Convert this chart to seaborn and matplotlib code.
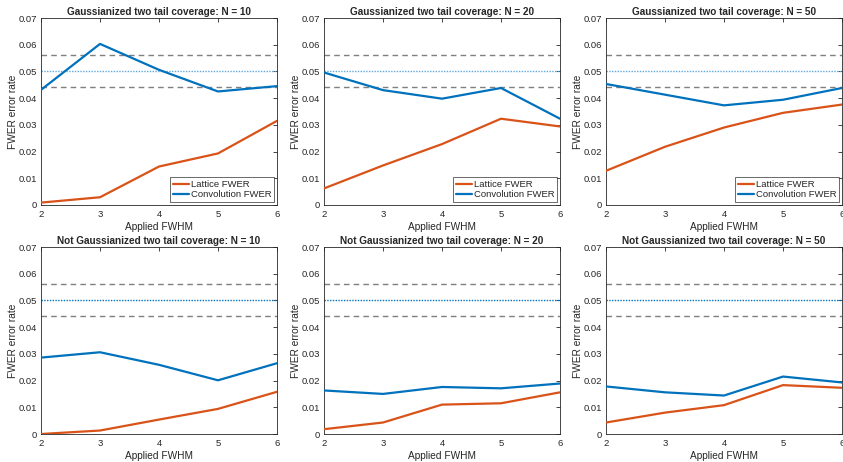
import numpy as np
import pandas as pd
import seaborn as sns
import matplotlib
matplotlib.use("Agg")
import matplotlib.pyplot as plt
from matplotlib.ticker import FixedLocator, FuncFormatter

# Applied smoothing levels
fwhm = [2, 3, 4, 5, 6]
sample_sizes = [10, 20, 50]

# Gaussianized data
gauss_lattice = {
    10: [0.0009, 0.0029, 0.0144, 0.0193, 0.0315],
    20: [0.0062, 0.0148, 0.0228, 0.0323, 0.0294],
    50: [0.0128, 0.0218, 0.0290, 0.0345, 0.0376],
}
gauss_conv = {
    10: [0.0431, 0.0603, 0.0506, 0.0425, 0.0445],
    20: [0.0496, 0.0430, 0.0398, 0.0438, 0.0323],
    50: [0.0453, 0.0413, 0.0373, 0.0394, 0.0438],
}

# Data without Gaussianization
raw_lattice = {
    10: [0.0000, 0.0013, 0.0054, 0.0094, 0.0158],
    20: [0.0018, 0.0043, 0.0110, 0.0115, 0.0156],
    50: [0.0043, 0.0080, 0.0108, 0.0183, 0.0173],
}
raw_conv = {
    10: [0.0286, 0.0306, 0.0259, 0.0201, 0.0265],
    20: [0.0163, 0.0150, 0.0176, 0.0171, 0.0189],
    50: [0.0178, 0.0156, 0.0144, 0.0215, 0.0193],
}

nominal = 0.05
band = [0.044, 0.056]

series_names = ["Lattice FWER", "Convolution FWER"]
palette = {"Lattice FWER": "#D95319", "Convolution FWER": "#0072BD"}

sns.set_style("white")
plt.rcParams["font.family"] = ["Liberation Sans", "DejaVu Sans"]
plt.rcParams["axes.edgecolor"] = "#262626"
plt.rcParams["xtick.color"] = "#262626"
plt.rcParams["ytick.color"] = "#262626"

fig = plt.figure(figsize=(8.43, 4.62), dpi=100)

W, H = 843.0, 462.0
lefts = [41, 324, 606]
width = 236
tops = [18, 247]
height = 187

rows = [
    ("Gaussianized two tail coverage: N = {}", gauss_lattice, gauss_conv, "#5FA8DE", True),
    ("Not Gaussianized two tail coverage: N = {}", raw_lattice, raw_conv, "#0072BD", False),
]

for r, (title_fmt, lat, conv, dotcol, show_legend) in enumerate(rows):
    for c, n in enumerate(sample_sizes):
        ax = fig.add_axes([lefts[c] / W, 1 - (tops[r] + height) / H, width / W, height / H])
        df = pd.DataFrame({
            "FWHM": fwhm * 2,
            "rate": lat[n] + conv[n],
            "series": [series_names[0]] * len(fwhm) + [series_names[1]] * len(fwhm),
        })
        for y in band:
            ax.axhline(y, color="#7f7f7f", lw=1.0, ls=(0, (4, 3)), zorder=1)
        ax.axhline(nominal, color=dotcol, lw=1.0, ls=(0, (1, 1)), zorder=1)
        sns.lineplot(data=df, x="FWHM", y="rate", hue="series", palette=palette,
                     hue_order=series_names, lw=1.6, ax=ax, legend=show_legend, zorder=3)
        ax.set_xlim(2, 6)
        ax.set_ylim(0, 0.07)
        ax.xaxis.set_major_locator(FixedLocator(fwhm))
        ax.yaxis.set_major_locator(FixedLocator(np.round(np.arange(0, 0.071, 0.01), 2)))
        ax.yaxis.set_major_formatter(FuncFormatter(lambda v, p: "0" if abs(v) < 1e-9 else f"{v:.2f}"))
        ax.tick_params(direction="in", length=3, width=0.6, labelsize=6.8,
                       top=True, right=True, pad=3, labelcolor="#262626")
        ax.tick_params(axis="x", pad=3.5)
        for sp in ax.spines.values():
            sp.set_linewidth(0.6)
            sp.set_visible(True)
        ax.set_xlabel("Applied FWHM", fontsize=7.3, color="#262626", labelpad=2.5)
        ax.set_ylabel("FWER error rate", fontsize=7.3, color="#262626", labelpad=0.5)
        ax.set_title(title_fmt.format(n), fontsize=7.2, fontweight="bold", pad=2.5)
        if show_legend:
            leg = ax.legend(loc="lower right", fontsize=6.8, frameon=True, fancybox=False,
                            handlelength=1.7, handletextpad=0.15, borderpad=0.3,
                            labelspacing=0.15, borderaxespad=0.3, edgecolor="#262626")
            leg.get_frame().set_linewidth(0.6)

fig.savefig("out.png", dpi=100)
